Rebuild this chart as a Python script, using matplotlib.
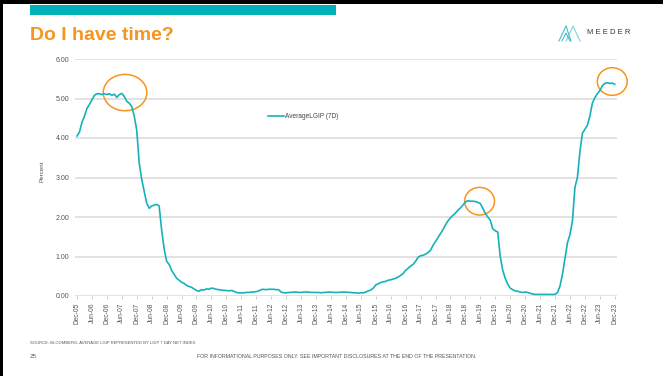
"""
LGIP 7일 평균 수익률 추이 (Dec-05 ~ Dec-23) 슬라이드 재현
"""

import numpy as np
import matplotlib
matplotlib.use('Agg')
import matplotlib.pyplot as plt
import matplotlib.patches as patches
from matplotlib.lines import Line2D

plt.rcParams['font.family'] = ['Liberation Sans', 'DejaVu Sans']

# 월별 값 (Dec-05 부터 Dec-23 까지, 단위 %)
lgip_7d = [
    4.05, 4.15, 4.40, 4.55, 4.75, 4.85, 4.97, 5.08, 5.12, 5.12, 5.10, 5.12,   # Dec-05 ~ Nov-06
    5.10, 5.12, 5.08, 5.11, 5.03, 5.10, 5.13, 5.05, 4.93, 4.88, 4.80, 4.55,   # Dec-06 ~ Nov-07
    4.20, 3.36, 2.95, 2.65, 2.35, 2.22, 2.28, 2.30, 2.32, 2.28, 1.67, 1.20,   # Dec-07 ~ Nov-08
    0.88, 0.80, 0.65, 0.55, 0.45, 0.40, 0.35, 0.32, 0.27, 0.24, 0.22, 0.18,   # Dec-08 ~ Nov-09
    0.14, 0.12, 0.16, 0.15, 0.18, 0.17, 0.20, 0.19, 0.17, 0.16, 0.15, 0.14,   # Dec-09 ~ Nov-10
    0.14, 0.13, 0.14, 0.12, 0.09, 0.08, 0.08, 0.08, 0.09, 0.09, 0.10, 0.10,   # Dec-10 ~ Nov-11
    0.11, 0.13, 0.16, 0.17, 0.16, 0.17, 0.17, 0.17, 0.16, 0.16, 0.10, 0.08,   # Dec-11 ~ Nov-12
    0.08, 0.09, 0.09, 0.10, 0.10, 0.09, 0.09, 0.10, 0.10, 0.10, 0.09, 0.09,   # Dec-12 ~ Nov-13
    0.09, 0.09, 0.08, 0.09, 0.09, 0.10, 0.10, 0.09, 0.09, 0.09, 0.10, 0.10,   # Dec-13 ~ Nov-14
    0.10, 0.09, 0.09, 0.08, 0.08, 0.07, 0.08, 0.08, 0.10, 0.13, 0.15, 0.20,   # Dec-14 ~ Nov-15
    0.28, 0.31, 0.34, 0.36, 0.37, 0.40, 0.41, 0.43, 0.45, 0.48, 0.52, 0.57,   # Dec-15 ~ Nov-16
    0.65, 0.70, 0.76, 0.80, 0.88, 0.98, 1.02, 1.03, 1.06, 1.10, 1.16, 1.28,   # Dec-16 ~ Nov-17
    1.38, 1.48, 1.58, 1.68, 1.80, 1.90, 1.98, 2.04, 2.10, 2.17, 2.23, 2.30,   # Dec-17 ~ Nov-18
    2.38, 2.41, 2.40, 2.40, 2.39, 2.37, 2.34, 2.22, 2.09, 2.00, 1.92, 1.70,   # Dec-18 ~ Nov-19
    1.65, 1.62, 1.00, 0.65, 0.45, 0.30, 0.20, 0.16, 0.13, 0.12, 0.10, 0.09,   # Dec-19 ~ Nov-20
    0.10, 0.09, 0.07, 0.05, 0.04, 0.04, 0.04, 0.04, 0.04, 0.04, 0.04, 0.04,   # Dec-20 ~ Nov-21
    0.04, 0.09, 0.25, 0.55, 0.95, 1.35, 1.55, 1.90, 2.75, 3.00, 3.65, 4.12,   # Dec-21 ~ Nov-22
    4.22, 4.32, 4.55, 4.88, 5.02, 5.12, 5.20, 5.32, 5.38, 5.40, 5.38, 5.39,   # Dec-22 ~ Nov-23
    5.36,                                                                     # Dec-23
]

# 6개월 간격 x축 라벨
tick_labels = [
    'Dec-05', 'Jun-06', 'Dec-06', 'Jun-07', 'Dec-07', 'Jun-08', 'Dec-08', 'Jun-09',
    'Dec-09', 'Jun-10', 'Dec-10', 'Jun-11', 'Dec-11', 'Jun-12', 'Dec-12', 'Jun-13',
    'Dec-13', 'Jun-14', 'Dec-14', 'Jun-15', 'Dec-15', 'Jun-16', 'Dec-16', 'Jun-17',
    'Dec-17', 'Jun-18', 'Dec-18', 'Jun-19', 'Dec-19', 'Jun-20', 'Dec-20', 'Jun-21',
    'Dec-21', 'Jun-22', 'Dec-22', 'Jun-23', 'Dec-23',
]

y_ticks = [0, 1, 2, 3, 4, 5, 6]

# 강조 원 (월 인덱스, 값)
highlights = [(19.3, 5.15), (161.7, 2.40), (215.0, 5.43)]

TEAL = '#15B2BA'
ORANGE = '#F7941D'
W, H = 663, 376


def fx(px):
    return px / W


def fy(py):
    return 1 - py / H


fig = plt.figure(figsize=(W / 100, H / 100), dpi=100)

# 슬라이드 테두리와 상단 바
fig.add_artist(patches.Rectangle((0, fy(4)), 1, 4 / H, transform=fig.transFigure,
                                 color='black', lw=0))
fig.add_artist(patches.Rectangle((0, 0), 3 / W, 1, transform=fig.transFigure,
                                 color='black', lw=0))
fig.add_artist(patches.Rectangle((fx(30), fy(14.5)), fx(306), 9.5 / H,
                                 transform=fig.transFigure, color='#00B1BA', lw=0))

fig.text(fx(30), fy(40), 'Do I have time?', color=ORANGE, fontsize=14,
         fontweight='bold', ha='left', va='baseline')

# 로고
fig.add_artist(Line2D([fx(559), fx(566), fx(571)], [fy(41), fy(26), fy(41)],
                      transform=fig.transFigure, color='#3CC3C8', lw=0.8))
fig.add_artist(Line2D([fx(566), fx(573), fx(580)], [fy(41), fy(26), fy(41)],
                      transform=fig.transFigure, color='#7DD6D9', lw=0.8))
fig.add_artist(Line2D([fx(562), fx(566), fx(570)], [fy(41), fy(33), fy(41)],
                      transform=fig.transFigure, color='#1BA8B0', lw=0.6))
fig.text(fx(587), fy(32), 'M E E D E R', color='#333333', fontsize=5.5,
         ha='left', va='center')

# 차트 영역
ax = fig.add_axes([fx(75), fy(296), fx(617) - fx(75), fy(59) - fy(296)])
x = np.arange(len(lgip_7d))
line, = ax.plot(x, lgip_7d, color=TEAL, lw=1.2, label='AverageLGIP (7D)')

ax.set_xlim(-0.8, 216.9)
ax.set_ylim(0, 6)
ax.set_yticks(y_ticks)
ax.set_yticklabels([f'{v:.2f}' for v in y_ticks])
ax.set_xticks(np.arange(0, len(lgip_7d), 6))
ax.set_xticklabels(tick_labels, rotation=90)
ax.tick_params(axis='y', length=0, pad=4, labelsize=5, labelcolor='#555555')
ax.tick_params(axis='x', length=2, width=0.5, color='#bbbbbb', pad=3,
               labelsize=4.8, labelcolor='#555555')
ax.grid(axis='y', color='#dddddd', lw=1.2)
ax.set_axisbelow(True)
for s in ax.spines.values():
    s.set_visible(False)

for cx, cy in highlights:
    ax.add_patch(patches.Ellipse((cx, cy), 12.0 if cx > 100 else 17.5,
                                 0.70 if cx > 100 else 0.92, fill=False,
                                 edgecolor=ORANGE, lw=1.1, clip_on=False))

ax.legend(handles=[line], loc='center', bbox_to_anchor=(fx(303), fy(117)),
          bbox_transform=fig.transFigure, frameon=False, fontsize=4.7,
          handlelength=2.6, handletextpad=0.1, labelcolor='#444444')

fig.text(fx(42.5), fy(171.5), 'Percent', rotation=90, fontsize=4.5,
         color='#555555', ha='center', va='center')

# 하단 텍스트
fig.text(fx(30), fy(343), 'SOURCE: BLOOMBERG, AVERAGE LGIP REPRESENTED BY LGIP 7 DAY NET INDEX',
         fontsize=3, color='#555555', ha='left', va='center')
fig.text(fx(30), fy(357), '25', fontsize=4.5, color='#555555', ha='left', va='center')
fig.text(fx(337), fy(357),
         'FOR INFORMATIONAL PURPOSES ONLY. SEE IMPORTANT DISCLOSURES AT THE END OF THE PRESENTATION.',
         fontsize=3.8, color='#555555', ha='center', va='center')

fig.savefig('out.png', dpi=100)
